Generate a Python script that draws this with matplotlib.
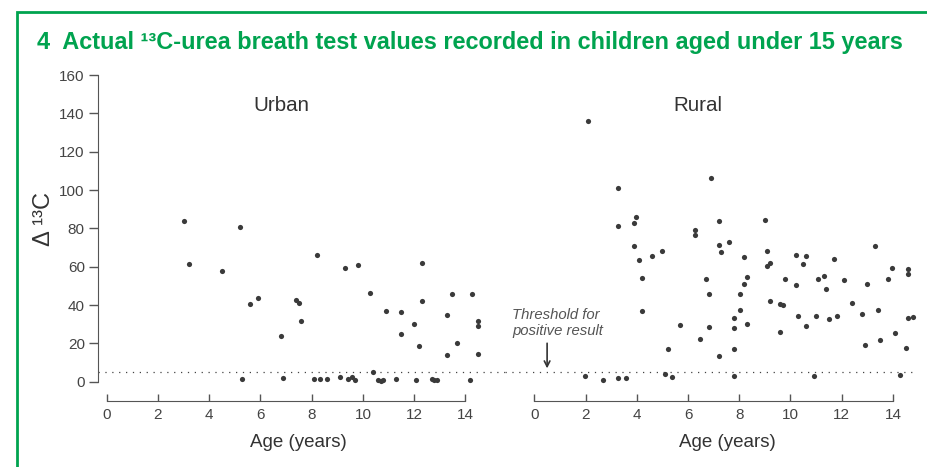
import matplotlib
matplotlib.use("Agg")
import matplotlib.pyplot as plt
from matplotlib.patches import Rectangle
from matplotlib import font_manager

names = {f.name for f in font_manager.fontManager.ttflist}
title_font = "Liberation Sans Narrow" if "Liberation Sans Narrow" in names else "Liberation Sans"
plt.rcParams['font.family'] = ['Liberation Sans', 'DejaVu Sans']

# urban children: age (years), delta 13C
urban_age = [3.00, 3.21, 4.51, 5.21, 5.30, 5.60, 5.90, 6.80, 6.90, 7.40, 7.50, 7.59,
             8.09, 8.20, 8.31, 8.60, 9.10, 9.29, 9.40, 9.59, 9.70, 9.79, 10.28, 10.40,
             10.58, 10.69, 10.79, 10.89, 11.28, 11.49, 11.49, 11.99, 12.09, 12.19, 12.30,
             12.30, 12.69, 12.78, 12.88, 13.29, 13.29, 13.48, 13.69, 14.18, 14.27, 14.48,
             14.48, 14.48]
urban_val = [83.8, 61.4, 57.7, 80.5, 1.4, 40.4, 43.8, 23.7, 1.8, 42.6, 41.1, 31.7,
             1.4, 65.9, 1.4, 1.4, 2.3, 59.5, 1.2, 2.5, 1.0, 61.1, 46.4, 4.9,
             0.8, 0.6, 0.8, 37.0, 1.2, 36.4, 24.9, 30.3, 1.0, 18.8, 62.1,
             42.1, 1.6, 0.7, 1.0, 35.0, 13.8, 45.6, 20.3, 1.0, 45.6, 31.7,
             29.1, 14.3]

# rural children
rural_age = [1.99, 2.10, 2.70, 3.28, 3.28, 3.28, 3.58, 3.89, 3.98, 3.89, 4.10, 4.20,
             4.20, 4.60, 4.99, 5.09, 5.20, 5.39, 5.69, 6.29, 6.29, 6.45, 6.70, 6.80,
             6.80, 6.89, 7.20, 7.20, 7.20, 7.29, 7.60, 7.80, 7.80, 7.80, 7.80, 8.01,
             8.01, 8.20, 8.30, 8.20, 8.30, 9.00, 9.10, 9.10, 9.21, 9.20, 9.60, 9.70,
             9.60, 9.79, 10.20, 10.20, 10.29, 10.50, 10.60, 10.60, 10.90, 10.99, 11.09,
             11.29, 11.39, 11.50, 11.70, 11.80, 12.10, 12.40, 12.80, 12.89, 13.00,
             13.30, 13.40, 13.49, 13.79, 13.98, 14.09, 14.29, 14.50, 14.60, 14.60,
             14.60, 14.79]
rural_val = [2.8, 136.0, 1.1, 100.9, 81.4, 1.7, 1.7, 82.9, 85.9, 70.9, 63.3, 53.9,
             36.7, 65.4, 68.3, 4.2, 16.9, 2.3, 29.4, 79.1, 76.7, 22.4, 53.6, 45.7,
             28.4, 106.1, 83.8, 71.5, 13.2, 67.7, 72.7, 2.8, 33.2, 28.2, 16.9, 45.7,
             37.2, 51.1, 54.8, 65.0, 29.9, 84.5, 68.3, 60.5, 61.8, 42.1, 40.5, 40.0,
             25.8, 53.7, 66.1, 50.3, 34.3, 61.2, 65.4, 28.9, 3.0, 34.3, 53.6,
             55.1, 48.5, 32.9, 63.8, 34.4, 53.2, 40.9, 35.3, 19.0, 50.8,
             70.6, 37.4, 21.9, 53.6, 59.3, 25.2, 3.5, 17.6, 58.6, 56.2,
             33.4, 33.6]

threshold = 5
x_ticks = [0, 2, 4, 6, 8, 10, 12, 14]
y_ticks = [0, 20, 40, 60, 80, 100, 120, 140, 160]

W, H = 928, 467
fig = plt.figure(figsize=(W / 100, H / 100), dpi=100)

green = '#00a34f'
ink = '#3a3a3a'
axc = '#555555'

# green box around the panel
fig.patches.append(Rectangle((17 / W, -0.01), 1.05, (H - 12) / H + 0.01, transform=fig.transFigure,
                             fill=False, edgecolor=green, lw=2))
fig.text(37 / W, 1 - 42 / H, "4  Actual ¹³C-urea breath test values recorded in children aged under 15 years",
         color=green, fontsize=16.9, fontweight='bold', family=[title_font, 'DejaVu Sans'],
         va='center', ha='left')

# pixel geometry: y(0)=381.7, y(160)=75 ; x-axis line at 400.7
ylo, yhi = -10, 166
ppv = (381.7 - 75) / 160
ax_bot = 381.7 - ylo * ppv
ax_top = 381.7 - yhi * ppv
ppa = 25.62


def make_ax(x0px, x1px, zero_px, label_px):
    lo = (x0px - zero_px) / ppa
    hi = (x1px - zero_px) / ppa
    ax = fig.add_axes([x0px / W, 1 - ax_bot / H, (x1px - x0px) / W, (ax_bot - ax_top) / H])
    ax.set_xlim(lo, hi)
    ax.set_ylim(ylo, yhi)
    ax.patch.set_alpha(0)
    for s in ['top', 'right']:
        ax.spines[s].set_visible(False)
    ax.spines['bottom'].set_bounds(0, 14)
    ax.spines['bottom'].set_color(axc)
    ax.spines['left'].set_color(axc)
    ax.set_xticks(x_ticks)
    ax.tick_params(axis='x', direction='in', length=5, width=1, color=axc,
                   labelsize=11, labelcolor='#444444', pad=5)
    ax.set_xlabel('Age (years)', fontsize=13.5, color='#333333')
    ax.xaxis.set_label_coords((label_px - x0px) / (x1px - x0px), -(447 - ax_bot) / (ax_bot - ax_top))
    ax.xaxis.label.set_va('baseline')
    return ax


ax1 = make_ax(98, 505, 106.7, 298)
ax2 = make_ax(505, 918, 534.3, 727)

ax1.spines['left'].set_bounds(0, 160)
ax1.set_yticks(y_ticks)
ax1.tick_params(axis='y', direction='out', length=6.5, width=1, color=axc,
                labelsize=11, labelcolor='#444444', pad=3)
ax1.set_ylabel('Δ ¹³C', fontsize=17, color='#333333')
ax1.yaxis.set_label_coords(-(98 - 55) / (505 - 98), (ax_bot - 219) / (ax_bot - ax_top))
ax2.spines['left'].set_visible(False)
ax2.set_yticks([])

ax1.scatter(urban_age, urban_val, s=14, color=ink, zorder=3, linewidths=0)
ax2.scatter(rural_age, rural_val, s=14, color=ink, zorder=3, linewidths=0)

for ax in (ax1, ax2):
    ax.axhline(threshold, color='#444444', lw=0.9, ls=(0, (1, 4.5)), zorder=1)

ax1.text(6.8, 144, 'Urban', fontsize=14.8, color='#333333', ha='center', va='center')
ax2.text(6.4, 144, 'Rural', fontsize=14.8, color='#333333', ha='center', va='center')

ax2.text(-0.86, 23, 'Threshold for\npositive result', fontsize=10.7, style='italic',
         color='#555555', ha='left', va='bottom', linespacing=1.15)
ax2.annotate('', xy=(0.5, 5.5), xytext=(0.5, 21.5),
             arrowprops=dict(arrowstyle='->', color='#333333', lw=1.2))

fig.savefig('out.png', dpi=100)
